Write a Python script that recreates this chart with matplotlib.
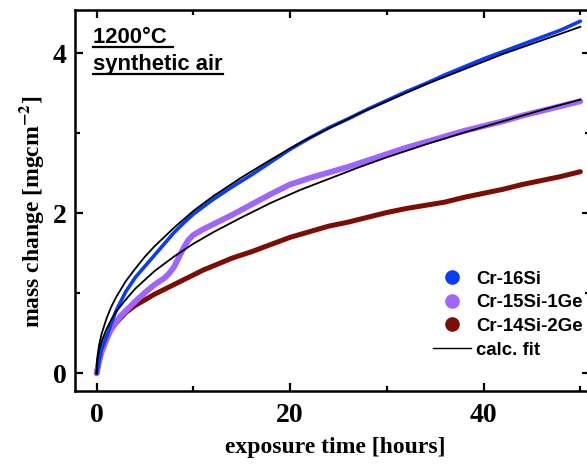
import matplotlib
matplotlib.use("Agg")
import matplotlib.pyplot as plt
from matplotlib.lines import Line2D
from matplotlib.ticker import MultipleLocator

# Thermogravimetric mass change at 1200 °C in synthetic air
t_cr16si = [0, 0.25, 0.5, 1, 1.5, 2, 3, 4, 5, 6, 7, 8, 9, 10, 11, 12, 13, 14, 16, 18,
            20, 22, 24, 26, 28, 30, 32, 34, 36, 38, 40, 42, 44, 46, 48, 50]
m_cr16si = [0, 0.15, 0.30, 0.45, 0.62, 0.78, 1.02, 1.20, 1.34, 1.48, 1.62, 1.76, 1.88, 1.99,
            2.08, 2.17, 2.25, 2.33, 2.48, 2.64, 2.80, 2.94, 3.07, 3.18, 3.30, 3.41, 3.52,
            3.62, 3.73, 3.83, 3.93, 4.02, 4.11, 4.20, 4.29, 4.40]

t_cr15si1ge = [0, 0.25, 0.5, 1, 1.5, 2, 2.5, 3, 4, 5, 6, 7, 7.5, 8, 8.5, 9, 9.5, 10, 11, 12,
               13, 14, 16, 18, 20, 22, 24, 26, 28, 30, 32, 34, 36, 38, 40, 42, 44, 46, 48, 50]
m_cr15si1ge = [0, 0.15, 0.26, 0.42, 0.55, 0.64, 0.72, 0.78, 0.90, 1.01, 1.11, 1.19, 1.25,
               1.33, 1.45, 1.57, 1.67, 1.73, 1.80, 1.86, 1.92, 1.98, 2.11, 2.24, 2.36, 2.44,
               2.51, 2.58, 2.66, 2.74, 2.82, 2.89, 2.96, 3.03, 3.09, 3.15, 3.22, 3.28, 3.34, 3.40]

t_cr14si2ge = [0, 0.25, 0.5, 1, 1.5, 2, 3, 4, 5, 6, 7, 8, 9, 10, 11, 12, 13, 14, 16, 18,
               20, 22, 24, 26, 28, 30, 32, 34, 36, 38, 40, 42, 44, 46, 48, 50]
m_cr14si2ge = [0, 0.18, 0.30, 0.45, 0.55, 0.63, 0.76, 0.85, 0.92, 0.99, 1.05, 1.11, 1.17,
               1.23, 1.29, 1.34, 1.39, 1.44, 1.52, 1.61, 1.70, 1.77, 1.84, 1.89, 1.95, 2.01,
               2.06, 2.10, 2.14, 2.20, 2.25, 2.30, 2.36, 2.41, 2.46, 2.52]

# calculated fit curves
t_fit = [0, 0.02, 0.05, 0.1, 0.25, 0.5, 1, 1.5, 2, 3, 4, 5, 6, 8, 10, 12, 15, 18, 21, 24,
         27, 30, 34, 38, 42, 46, 50]
fit_cr16si = [0, 0.11, 0.17, 0.23, 0.355, 0.49, 0.68, 0.83, 0.95, 1.15, 1.31, 1.46, 1.59,
              1.82, 2.03, 2.21, 2.45, 2.67, 2.88, 3.06, 3.24, 3.40, 3.61, 3.80, 3.99, 4.16, 4.33]
fit_cr15si1ge = [0, 0.09, 0.14, 0.19, 0.29, 0.40, 0.55, 0.67, 0.77, 0.92, 1.06, 1.17, 1.28,
                 1.46, 1.62, 1.76, 1.95, 2.13, 2.29, 2.43, 2.57, 2.70, 2.86, 3.01, 3.15, 3.29, 3.42]

labels = ["Cr-16Si", "Cr-15Si-1Ge", "Cr-14Si-2Ge", "calc. fit"]
colors = ["#0a3cf5", "#a064ff", "#7c0c04"]
x_ticks = [0, 20, 40]
y_ticks = [0, 2, 4]

SERIF = "Liberation Serif"
SANS = "Liberation Sans"

W, H = 587, 466
fig = plt.figure(figsize=(W / 100, H / 100), dpi=100)
ax = fig.add_axes([75 / W, 75 / H, 515 / W, 381 / H])

ax.plot(t_cr14si2ge, m_cr14si2ge, color=colors[2], lw=3.6, solid_capstyle="round", zorder=2)
ax.plot(t_cr15si1ge, m_cr15si1ge, color=colors[1], lw=4.2, solid_capstyle="round", zorder=2)
ax.plot(t_cr16si, m_cr16si, color=colors[0], lw=2.6, solid_capstyle="round", zorder=2)
ax.plot(t_fit, fit_cr16si, color="black", lw=1.3, zorder=3)
ax.plot(t_fit, fit_cr15si1ge, color="black", lw=1.3, zorder=3)

ax.set_xlim(-2.24, 51.0)
ax.set_ylim(-0.22, 4.54)
ax.set_xticks(x_ticks)
ax.set_yticks(y_ticks)
ax.xaxis.set_minor_locator(MultipleLocator(10))
ax.yaxis.set_minor_locator(MultipleLocator(1))
ax.tick_params(which="both", direction="in", top=True, right=True, width=1.6)
ax.tick_params(which="major", length=6, pad=6)
ax.tick_params(which="minor", length=3.5)
ax.tick_params(axis="x", which="major", pad=9)
for lab in ax.get_xticklabels() + ax.get_yticklabels():
    lab.set_fontfamily(SERIF)
    lab.set_fontweight("bold")
    lab.set_fontsize(20)
for sp in ax.spines.values():
    sp.set_linewidth(1.8)

fig.text(335 / W, 1 - 448 / H, "exposure time [hours]", family=SERIF, weight="bold",
         fontsize=17, ha="center", va="center")
plt.rcParams["mathtext.fontset"] = "stix"
fig.text(32 / W, 1 - 212 / H, r"mass change [mgcm$^{\mathbf{-2}}$]", family=SERIF,
         weight="bold", fontsize=17, ha="center", va="center", rotation=90)

# legend
handles = [Line2D([], [], ls="none", marker="o", ms=9.5, color=c) for c in colors]
handles.append(Line2D([], [], color="black", lw=1.0))
leg = ax.legend(handles, labels, loc="upper left", bbox_to_anchor=(433 / W, 1 - 270.5 / H),
                bbox_transform=fig.transFigure, frameon=False, borderpad=0,
                borderaxespad=0, handlelength=2.05, handletextpad=0.25, labelspacing=0.36,
                prop={"family": SANS, "weight": "bold", "size": 13.4})

# underlined condition labels
fig.canvas.draw()
renderer = fig.canvas.get_renderer()
for txt, y_base in [("1200°C ", 43), ("synthetic air", 70)]:
    t = fig.text(93 / W, 1 - y_base / H, txt, family=SANS, weight="bold", fontsize=15.8,
                 ha="left", va="baseline")
    bb = t.get_window_extent(renderer)
    yl = (H - y_base - 3.5) / H
    fig.add_artist(Line2D([bb.x0 / W, bb.x1 / W], [yl, yl], color="black", lw=1.6,
                          transform=fig.transFigure))

fig.savefig("out.png", dpi=100)
